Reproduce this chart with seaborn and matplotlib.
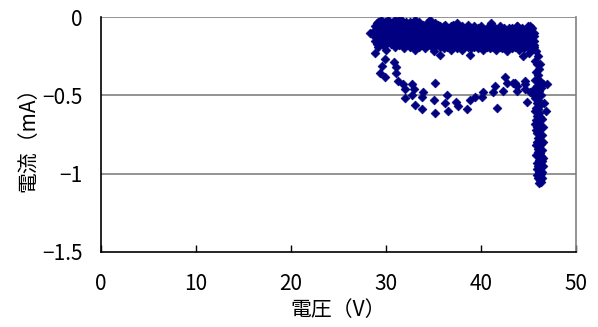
import matplotlib
matplotlib.use("Agg")
import matplotlib.pyplot as plt
import seaborn as sns
import pandas as pd

# ---- data (voltage V, current mA) ----
band_v = [28.8, 29.0, 29.2, 29.3, 29.5, 29.7, 29.9, 30.0, 30.2, 30.4,
          30.5, 30.7, 30.9, 31.1, 31.2, 31.4, 31.6, 31.8, 31.9, 32.1,
          32.3, 32.5, 32.6, 32.8, 33.0, 33.2, 33.4, 33.5, 33.7, 33.9,
          34.1, 34.3, 34.4, 34.6, 34.8, 35.0, 35.2, 35.3, 35.5, 35.7,
          35.9, 36.1, 36.2, 36.4, 36.6, 36.8, 37.0, 37.1, 37.3, 37.5,
          37.7, 37.9, 38.0, 38.2, 38.4, 38.6, 38.8, 38.9, 39.1, 39.3,
          39.5, 39.7, 39.8, 40.0, 40.2, 40.4, 40.6, 40.7, 40.9, 41.1,
          41.3, 41.5, 41.6, 41.8, 42.0, 42.2, 42.4, 42.5, 42.7, 42.9,
          43.1, 43.3, 43.4, 43.6, 43.8, 44.0, 44.2, 44.3, 44.5, 44.7,
          44.9, 45.1, 45.2, 45.4, 45.6]
band_i_top = [-0.06, -0.04, -0.03, -0.05, -0.02, -0.04, -0.03, -0.06, -0.02, -0.04,
              -0.05, -0.03, -0.02, -0.04, -0.06, -0.03, -0.02, -0.05, -0.04, -0.03,
              -0.05, -0.03, -0.06, -0.04, -0.05, -0.07, -0.04, -0.03, -0.06, -0.05,
              -0.07, -0.04, -0.06, -0.05, -0.08, -0.06, -0.04, -0.07, -0.05, -0.06,
              -0.08, -0.06, -0.05, -0.07, -0.09, -0.06, -0.07, -0.05, -0.08, -0.06,
              -0.07, -0.09, -0.06, -0.08, -0.07, -0.05, -0.08, -0.07, -0.09, -0.06,
              -0.08, -0.07, -0.09, -0.06, -0.08, -0.10, -0.07, -0.08, -0.06, -0.09,
              -0.08, -0.07, -0.10, -0.08, -0.06, -0.09, -0.07, -0.08, -0.10, -0.07,
              -0.09, -0.07, -0.08, -0.10, -0.06, -0.08, -0.09, -0.07, -0.10, -0.08,
              -0.06, -0.09, -0.08, -0.07, -0.10]
band_i_upmid = [-0.08, -0.07, -0.06, -0.09, -0.07, -0.05, -0.08, -0.09, -0.06, -0.07,
                -0.08, -0.06, -0.07, -0.09, -0.05, -0.08, -0.07, -0.06, -0.09, -0.07,
                -0.08, -0.07, -0.09, -0.08, -0.10, -0.07, -0.09, -0.08, -0.09, -0.10,
                -0.08, -0.09, -0.07, -0.10, -0.09, -0.08, -0.10, -0.09, -0.08, -0.10,
                -0.10, -0.09, -0.11, -0.10, -0.08, -0.10, -0.11, -0.09, -0.10, -0.11,
                -0.09, -0.10, -0.11, -0.10, -0.09, -0.11, -0.10, -0.09, -0.11, -0.10,
                -0.11, -0.10, -0.12, -0.10, -0.11, -0.12, -0.10, -0.11, -0.09, -0.12,
                -0.11, -0.10, -0.12, -0.11, -0.10, -0.12, -0.11, -0.10, -0.12, -0.11,
                -0.12, -0.11, -0.10, -0.12, -0.11, -0.10, -0.12, -0.11, -0.12, -0.10,
                -0.11, -0.12, -0.10, -0.11, -0.12]
band_i_mid = [-0.10, -0.12, -0.09, -0.11, -0.13, -0.10, -0.08, -0.12, -0.11, -0.09,
              -0.13, -0.10, -0.12, -0.09, -0.11, -0.13, -0.10, -0.12, -0.09, -0.11,
              -0.12, -0.10, -0.13, -0.11, -0.12, -0.14, -0.10, -0.12, -0.13, -0.11,
              -0.14, -0.12, -0.10, -0.13, -0.12, -0.14, -0.11, -0.13, -0.12, -0.14,
              -0.13, -0.15, -0.12, -0.14, -0.13, -0.11, -0.14, -0.15, -0.12, -0.13,
              -0.14, -0.12, -0.15, -0.13, -0.14, -0.12, -0.15, -0.13, -0.14, -0.12,
              -0.14, -0.13, -0.15, -0.12, -0.14, -0.13, -0.15, -0.14, -0.12, -0.15,
              -0.13, -0.14, -0.12, -0.15, -0.14, -0.13, -0.15, -0.12, -0.14, -0.13,
              -0.15, -0.13, -0.14, -0.12, -0.15, -0.14, -0.13, -0.15, -0.12, -0.14,
              -0.13, -0.15, -0.14, -0.12, -0.15]
band_i_lowmid = [-0.13, -0.15, -0.14, -0.16, -0.12, -0.15, -0.13, -0.17, -0.14, -0.12,
                 -0.16, -0.13, -0.15, -0.17, -0.13, -0.15, -0.16, -0.14, -0.12, -0.15,
                 -0.15, -0.14, -0.17, -0.15, -0.16, -0.18, -0.15, -0.16, -0.17, -0.15,
                 -0.16, -0.18, -0.15, -0.17, -0.16, -0.18, -0.15, -0.16, -0.17, -0.16,
                 -0.16, -0.18, -0.15, -0.17, -0.16, -0.18, -0.17, -0.16, -0.18, -0.17,
                 -0.16, -0.18, -0.17, -0.16, -0.18, -0.17, -0.16, -0.18, -0.17, -0.16,
                 -0.17, -0.16, -0.18, -0.17, -0.16, -0.18, -0.17, -0.16, -0.18, -0.17,
                 -0.16, -0.18, -0.17, -0.16, -0.18, -0.17, -0.16, -0.18, -0.17, -0.16,
                 -0.17, -0.16, -0.18, -0.17, -0.16, -0.18, -0.17, -0.16, -0.18, -0.17,
                 -0.16, -0.18, -0.17, -0.16, -0.18]
band_i_low = [-0.15, -0.17, -0.19, -0.14, -0.16, -0.18, -0.15, -0.21, -0.16, -0.14,
              -0.17, -0.15, -0.19, -0.16, -0.14, -0.18, -0.15, -0.17, -0.20, -0.16,
              -0.17, -0.19, -0.16, -0.18, -0.21, -0.17, -0.16, -0.19, -0.18, -0.17,
              -0.20, -0.16, -0.18, -0.17, -0.19, -0.22, -0.17, -0.18, -0.16, -0.19,
              -0.18, -0.20, -0.17, -0.19, -0.18, -0.21, -0.17, -0.19, -0.18, -0.20,
              -0.17, -0.19, -0.21, -0.18, -0.17, -0.19, -0.18, -0.20, -0.17, -0.19,
              -0.18, -0.20, -0.17, -0.19, -0.21, -0.18, -0.19, -0.17, -0.20, -0.18,
              -0.19, -0.17, -0.21, -0.18, -0.19, -0.20, -0.17, -0.18, -0.22, -0.19,
              -0.18, -0.20, -0.17, -0.19, -0.18, -0.21, -0.19, -0.17, -0.20, -0.18,
              -0.19, -0.23, -0.18, -0.20, -0.19]
stray_v = [34.6, 41.0, 43.8, 45.2, 35.7, 38.8, 44.4, 28.8, 28.3, 31.5, 33.0, 37.5]
stray_i = [-0.02, -0.04, -0.06, -0.06, -0.24, -0.24, -0.25, -0.23, -0.10, -0.01, -0.02, -0.04]

loop_v = [29.9, 29.6, 30.8, 31.0, 29.4, 29.9, 31.1, 31.3, 31.8, 32.0,
          32.7, 32.9, 33.9, 33.8, 32.0, 32.7, 33.1, 33.8, 35.0, 35.2,
          35.2, 36.4, 36.2, 36.5, 37.4, 37.6, 38.5, 38.8, 39.4, 40.1,
          40.2, 41.3, 41.5, 41.7, 42.5, 42.3, 42.7, 43.4, 43.8, 43.8,
          44.6, 44.6, 44.8, 45.2, 43.6, 44.6]
loop_i = [-0.27, -0.31, -0.29, -0.32, -0.36, -0.38, -0.36, -0.41, -0.43, -0.46,
          -0.43, -0.46, -0.48, -0.51, -0.52, -0.50, -0.56, -0.59, -0.53, -0.42,
          -0.61, -0.50, -0.55, -0.60, -0.54, -0.57, -0.59, -0.53, -0.51, -0.51,
          -0.48, -0.48, -0.44, -0.58, -0.38, -0.47, -0.42, -0.42, -0.47, -0.44,
          -0.41, -0.46, -0.54, -0.48, -0.42, -0.43]

col_v = [45.8, 46.0, 45.7, 45.9, 46.1, 45.8, 46.0, 45.7, 46.2, 46.5,
         45.9, 45.6, 46.1, 45.8, 46.3, 45.7, 46.0, 45.9, 46.2, 45.8,
         46.0, 46.8, 46.1, 45.9, 46.2, 45.8, 46.0, 46.1, 45.9, 46.3,
         46.0, 45.9, 46.2, 46.0, 46.1, 45.9, 46.3, 46.1, 46.0, 46.4,
         46.2, 46.0, 46.3, 46.1, 46.4, 46.2, 46.0, 46.3, 46.2, 46.1,
         46.3, 46.2, 46.0, 46.2, 46.1, 46.2, 46.3, 45.7, 46.4, 45.8,
         46.4, 45.8, 46.5, 45.9, 46.4, 45.9, 46.3, 46.9, 45.8, 46.5,
         45.9, 46.4, 46.0, 46.5, 45.7, 46.5, 46.6, 45.6]
col_i = [-0.22, -0.25, -0.28, -0.30, -0.33, -0.35, -0.37, -0.40, -0.41, -0.43,
         -0.44, -0.46, -0.47, -0.49, -0.50, -0.52, -0.53, -0.55, -0.56, -0.58,
         -0.59, -0.60, -0.61, -0.63, -0.64, -0.66, -0.67, -0.69, -0.70, -0.71,
         -0.73, -0.74, -0.76, -0.77, -0.79, -0.80, -0.81, -0.83, -0.84, -0.85,
         -0.87, -0.88, -0.89, -0.91, -0.92, -0.93, -0.95, -0.96, -0.98, -0.99,
         -1.00, -1.02, -1.03, -1.04, -1.06, -0.30, -0.45, -0.60, -0.65, -0.72,
         -0.75, -0.82, -0.90, -0.93, -0.99, -1.01, -1.05, -0.43, -0.88, -0.95,
         -0.97, -1.03, -0.86, -0.80, -0.68, -0.70, -0.55, -0.50]

x_ticks = [0, 10, 20, 30, 40, 50]
y_ticks = [0, -0.5, -1, -1.5]
y_tick_labels = ["0", "\u22120.5", "\u22121", "\u22121.5"]
x_label = "電圧（V）"
y_label = "電流（mA）"

volts = band_v * 5 + stray_v + loop_v + col_v
amps = (band_i_top + band_i_upmid + band_i_mid + band_i_lowmid + band_i_low
        + stray_i + loop_i + col_i)
df = pd.DataFrame({"v": volts, "i": amps})

sns.set_theme(style="white")
plt.rcParams["font.family"] = ["Noto Sans CJK JP", "DejaVu Sans"]

fig = plt.figure(figsize=(5.98, 3.27), dpi=100)
ax = fig.add_axes([101 / 598, 1 - 252 / 327, 475 / 598, 235 / 327])

for yv in [0, -0.5, -1]:
    ax.axhline(yv, color="#808080", lw=1.2, zorder=1)

sns.scatterplot(data=df, x="v", y="i", marker="D", s=20, color="#000080",
                edgecolor="#000080", linewidth=0.5, ax=ax, zorder=3, legend=False)

ax.set_xlim(0, 50)
ax.set_ylim(-1.5, 0)
ax.set_xticks(x_ticks)
ax.set_xticklabels([str(t) for t in x_ticks])
ax.set_yticks(y_ticks)
ax.set_yticklabels(y_tick_labels)

for s in ["left", "bottom"]:
    ax.spines[s].set_color("black")
    ax.spines[s].set_linewidth(1.2)
ax.spines["top"].set_visible(False)
ax.spines["right"].set_color("#808080")
ax.spines["right"].set_linewidth(1.2)

ax.tick_params(axis="x", direction="in", length=5, width=1, color="black",
               labelsize=15, pad=15, labelcolor="black", bottom=True)
ax.tick_params(axis="y", direction="in", length=0, labelsize=15, pad=13,
               labelcolor="black", left=True)

ax.set_xlabel(x_label, fontsize=15, labelpad=3, color="black")
ax.set_ylabel(y_label, fontsize=15, labelpad=2, color="black")

fig.savefig("out.png", dpi=100)
